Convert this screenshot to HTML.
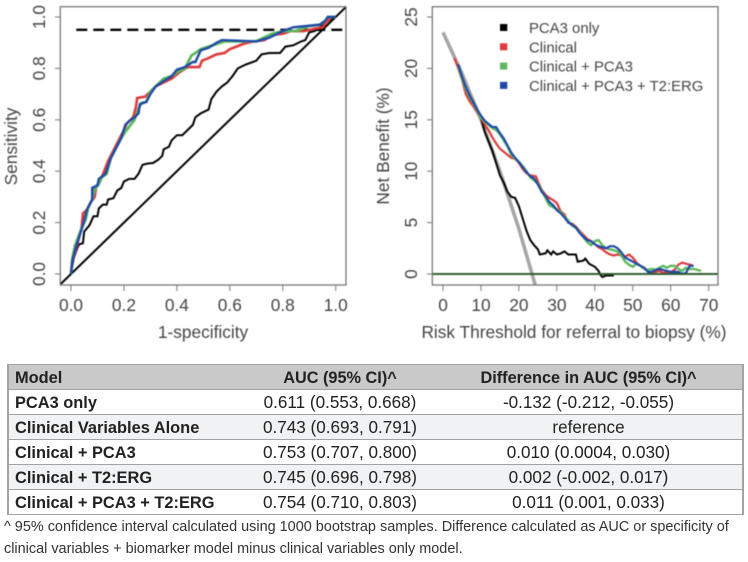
<!DOCTYPE html>
<html lang="en">
<head>
<meta charset="utf-8">
<title>ROC and decision curves with AUC table</title>
<style>
html,body{margin:0;padding:0;background:#fff;width:748px;height:562px;overflow:hidden}
#charts{position:absolute;left:0;top:0;filter:blur(0.5px)}
text{font-family:"Liberation Sans",sans-serif;fill:#444}
#auc-table{position:absolute;left:7px;top:364px;width:737px;height:151px;border-collapse:collapse;table-layout:fixed;font-family:"Liberation Sans",sans-serif;font-size:17.1px;color:#222;filter:blur(0.35px)}
#auc-table td,#auc-table th{box-sizing:border-box;border-top:1.5px solid #a3a3a3;border-bottom:1.5px solid #a3a3a3;padding:2px 0 0 0;text-align:center;height:25px;line-height:20px;font-weight:normal}
#auc-table tr>*:first-child{border-left:2px solid #a3a3a3;text-align:left;padding-left:6px;font-weight:bold;font-size:16.4px}
#auc-table tr>*:last-child{border-right:2px solid #a3a3a3;padding-left:3px}
#auc-table th{background:#c9c9c9;font-weight:bold !important;font-size:16.3px}
#auc-table tr.alt td{background:#f1f2f3}
.note{position:absolute;left:4px;font-family:"Liberation Sans",sans-serif;font-size:14.45px;color:#333;white-space:nowrap;filter:blur(0.35px)}
</style>
</head>
<body>
<svg id="charts" width="748" height="350" viewBox="0 0 748 350" xmlns="http://www.w3.org/2000/svg"></svg>

<table id="auc-table">
<colgroup><col style="width:240px"><col style="width:184px"><col></colgroup>
<tr><th>Model</th><th>AUC (95% CI)^</th><th>Difference in AUC (95% CI)^</th></tr>
<tr><td>PCA3 only</td><td>0.611 (0.553, 0.668)</td><td>-0.132 (-0.212, -0.055)</td></tr>
<tr class="alt"><td>Clinical Variables Alone</td><td>0.743 (0.693, 0.791)</td><td>reference</td></tr>
<tr><td>Clinical + PCA3</td><td>0.753 (0.707, 0.800)</td><td>0.010 (0.0004, 0.030)</td></tr>
<tr class="alt"><td>Clinical + T2:ERG</td><td>0.745 (0.696, 0.798)</td><td>0.002 (-0.002, 0.017)</td></tr>
<tr><td>Clinical + PCA3 + T2:ERG</td><td>0.754 (0.710, 0.803)</td><td>0.011 (0.001, 0.033)</td></tr>
</table>
<div class="note" style="top:519px">^ 95% confidence interval calculated using 1000 bootstrap samples. Difference calculated as AUC or specificity of</div>
<div class="note" style="top:541px">clinical variables + biomarker model minus clinical variables only model.</div>

<script>
// ROC chart data
const rocTicks = [0, 0.2, 0.4, 0.6, 0.8, 1.0];
const rocTickLabels = ["0.0", "0.2", "0.4", "0.6", "0.8", "1.0"];
const rocThreshold = 0.95;
const rocPca3Fpr = [0,0.01,0.02,0.03,0.045,0.05,0.07,0.085,0.10,0.105,0.12,0.135,0.14,0.16,0.175,0.19,0.2,0.22,0.24,0.255,0.27,0.29,0.31,0.33,0.345,0.35,0.37,0.38,0.4,0.42,0.44,0.46,0.47,0.49,0.52,0.53,0.55,0.57,0.59,0.61,0.63,0.66,0.70,0.72,0.75,0.79,0.81,0.84,0.87,0.885,0.90,0.92,0.94,0.96,0.98,1];
const rocPca3Tpr = [0,0.06,0.09,0.115,0.12,0.165,0.19,0.225,0.225,0.255,0.27,0.27,0.29,0.295,0.325,0.335,0.36,0.37,0.37,0.39,0.425,0.43,0.432,0.445,0.46,0.485,0.495,0.52,0.54,0.54,0.56,0.58,0.61,0.625,0.64,0.68,0.71,0.73,0.745,0.77,0.8,0.815,0.83,0.855,0.86,0.86,0.885,0.89,0.905,0.91,0.94,0.945,0.96,0.975,0.99,1];
const rocClinicalFpr = [0,0.005,0.02,0.03,0.04,0.045,0.06,0.075,0.09,0.095,0.11,0.125,0.14,0.16,0.18,0.2,0.21,0.235,0.245,0.25,0.28,0.3,0.32,0.35,0.38,0.41,0.44,0.485,0.495,0.52,0.55,0.58,0.6,0.625,0.65,0.69,0.73,0.76,0.8,0.83,0.88,0.92,0.95,0.97,0.985,1];
const rocClinicalTpr = [0,0.05,0.1,0.14,0.18,0.235,0.25,0.28,0.30,0.34,0.36,0.40,0.44,0.48,0.52,0.56,0.585,0.61,0.65,0.685,0.69,0.71,0.73,0.745,0.76,0.785,0.805,0.805,0.83,0.84,0.855,0.86,0.875,0.885,0.895,0.905,0.91,0.93,0.935,0.945,0.945,0.955,0.96,0.985,1,1];
const rocPlusPca3Fpr = [0,0.005,0.015,0.03,0.045,0.055,0.065,0.08,0.09,0.105,0.115,0.135,0.15,0.17,0.19,0.21,0.225,0.24,0.25,0.265,0.285,0.30,0.33,0.35,0.38,0.4,0.43,0.44,0.455,0.47,0.49,0.52,0.55,0.58,0.63,0.7,0.72,0.76,0.8,0.85,0.9,0.94,0.96,0.97,1];
const rocPlusPca3Tpr = [0,0.06,0.11,0.15,0.19,0.21,0.26,0.29,0.33,0.35,0.375,0.39,0.45,0.49,0.53,0.56,0.58,0.60,0.63,0.665,0.67,0.71,0.74,0.76,0.77,0.785,0.80,0.82,0.85,0.86,0.875,0.885,0.895,0.905,0.905,0.905,0.915,0.935,0.945,0.945,0.965,0.97,0.985,1,1];
const rocFullFpr = [0,0.005,0.02,0.03,0.045,0.06,0.08,0.08,0.1,0.105,0.13,0.15,0.17,0.19,0.205,0.22,0.24,0.255,0.26,0.285,0.3,0.32,0.35,0.38,0.4,0.43,0.46,0.47,0.49,0.52,0.55,0.57,0.7,0.75,0.8,0.84,0.89,0.94,0.96,0.97,1];
const rocFullTpr = [0,0.05,0.11,0.14,0.19,0.25,0.29,0.335,0.345,0.37,0.39,0.45,0.49,0.53,0.58,0.595,0.61,0.625,0.66,0.67,0.70,0.73,0.75,0.77,0.795,0.805,0.825,0.825,0.87,0.88,0.90,0.91,0.905,0.92,0.945,0.96,0.965,0.97,0.985,1,1];

// Net benefit chart data
const nbXTicks = [0, 10, 20, 30, 40, 50, 60, 70];
const nbYTicks = [0, 5, 10, 15, 20, 25];
const nbTreatAllX = [0, 5, 10, 15, 20, 24.4];
const nbTreatAllY = [23.5, 19.5, 15.0, 10.0, 4.4, -1.2];
const nbPca3X = [10,11,12,13,14,15,16,17,18,19,20,21,22,23,24,25,25.5,27,27.5,28.5,29,30,31,32,33,35,35.5,37,37.5,38.5,40,41,41.5,42,43,45];
const nbPca3Y = [15.2,13.8,12.9,12,10.8,9.6,8.9,8,7.5,7.4,6.6,5.4,4.2,3.3,2.8,2.4,1.9,2,2.3,1.9,2.2,1.9,2,2.2,1.9,1.9,1.2,1.3,1.5,1,0.7,0.3,-0.1,-0.3,-0.15,-0.15];
const nbClinicalX = [3,4,5,6,7,8,9,10,11,12,13,14,15,16,17,18,19,20,21,22,23,24.5,25,26,27,28,29,30,31,32,33,34,35,36,37,38,39,40,41,42,43,44,45,46,47,48,49,50,51,52,53,54,55,56,57,58,59,60,61,62,63,64,65,66];
const nbClinicalY = [21,20,18.9,17.5,16.8,16.3,15.7,15.2,14.5,14,13.3,12.7,12.2,11.9,11.6,11.3,11.2,10.8,10.2,9.8,9.6,9.5,9,8.2,7.7,7.4,7.2,6.9,6.1,5.8,5.0,4.9,4.6,4.2,3.8,3.4,3.2,2.9,2.6,2.4,2.1,1.9,1.8,1.9,1.8,1.7,1.9,1.6,1.1,0.8,0.6,0.2,0.1,0.2,0.3,0.1,0.2,0.2,0.4,0.9,1.1,1,0.9,0.8];
const nbPlusPca3X = [4,5,6,7,8,9,10,11,12,13,14,15,16,17,18,19,20,21,22,23,24,25,26,27,28,29,30,31,32,33,34,35,36,37,38,39,40,41,42,43,44,45,46,47,48,49,50,51,52,53,54,55,56,57,58,59,60,61,62,63,64,65,66,67,68];
const nbPlusPca3Y = [20.2,19,18,17.2,16.6,15.9,15.2,14.8,14.5,14.2,14,13.6,13,12.4,11.6,11.2,10.9,10.5,10,9.4,9.1,8.8,8.1,7.4,6.7,6.5,6.3,6,5.6,5.2,4.7,4.5,4.1,3.6,3.1,2.8,3.2,3.3,2.8,2.5,2.4,2.3,2.2,1.8,1.2,0.9,0.7,1,0.8,0.5,0.4,0.5,0.4,0.6,0.8,0.6,0.8,0.8,0.5,0.3,0.6,0.5,0.5,0.4,0.3];
const nbFullX = [4,5,6,7,8,9,10,11,12,13,14,15,16,17,18,19,20,21,22,23,24,25,26,27,28,29,30,31,32,33,34,35,36,37,38,39,40,41,42,43,44,45,46,47,48,49,50,51,52,53,54,55,56,57,58,59,60,61,62,63,64,65,66];
const nbFullY = [20.4,19.2,18.2,17.4,16.7,16,15.4,14.9,14.6,14.3,14.3,13.7,13.2,12.5,11.8,11.3,10.9,10.4,9.9,9.5,9.3,8.7,8,7.6,7,6.7,6.2,5.9,5.5,5,4.8,4.5,4,3.6,3.3,3.2,2.9,2.7,2.6,2.5,2.7,2.7,2.5,2.1,1.6,1.4,1.2,1,0.8,0.6,0.2,0.2,0.4,0.5,0.4,0.3,0.2,0.2,0.2,0,0.1,0.8,0.8];

// Legend data
const legendLabels = ["PCA3 only", "Clinical", "Clinical + PCA3", "Clinical + PCA3 + T2:ERG"];
const legendColors = ["#000000", "#e03a3a", "#5cb85c", "#1f4aa8"];

const NS = "http://www.w3.org/2000/svg";
const svg = document.getElementById("charts");

function add(parent, tag, attrs) {
  const el = document.createElementNS(NS, tag);
  for (const k in attrs) el.setAttribute(k, attrs[k]);
  parent.appendChild(el);
  return el;
}

// Axis functions
function rocXScale(v) { return 71 + v * 264.7; }
function rocYScale(v) { return 274 - v * 257; }
function nbXScale(v) { return 443 + v * (265.7 / 70); }
function nbYScale(v) { return 274 - v * (257 / 25); }

function linePath(xs, ys, sx, sy) {
  return xs.map(function (x, i) {
    return (i ? "L" : "M") + sx(x).toFixed(1) + " " + sy(ys[i]).toFixed(1);
  }).join("");
}

const defs = add(svg, "defs", {});
const clipLeft = add(defs, "clipPath", { id: "clip-left" });
add(clipLeft, "rect", { x: 60.3, y: 6.7, width: 285.7, height: 278.3 });
const clipRight = add(defs, "clipPath", { id: "clip-right" });
add(clipRight, "rect", { x: 432.3, y: 6.7, width: 285.7, height: 278.3 });

const AXIS = "#777777";
const TICK_FONT = 17.3;

// ROC panel
const rocG = add(svg, "g", {});


const rocMarks = add(rocG, "g", { "clip-path": "url(#clip-left)" });

const rocDiagonal = add(rocMarks, "line", { x1: rocXScale(-0.04), y1: rocYScale(-0.04), x2: rocXScale(1.04), y2: rocYScale(1.04), stroke: "#000", "stroke-width": 2 });



const rocDash = add(rocMarks, "line", { x1: rocXScale(0.02), y1: rocYScale(rocThreshold), x2: rocXScale(1.04), y2: rocYScale(rocThreshold), stroke: "#000", "stroke-width": 2.4, "stroke-dasharray": "11 6" });



const rocPca3 = add(rocMarks, "path", { d: linePath(rocPca3Fpr, rocPca3Tpr, rocXScale, rocYScale), fill: "none", stroke: "#000", "stroke-width": 2 });



const rocClinical = add(rocMarks, "path", { d: linePath(rocClinicalFpr, rocClinicalTpr, rocXScale, rocYScale), fill: "none", stroke: legendColors[1], "stroke-width": 2.6 });



const rocPlusPca3 = add(rocMarks, "path", { d: linePath(rocPlusPca3Fpr, rocPlusPca3Tpr, rocXScale, rocYScale), fill: "none", stroke: legendColors[2], "stroke-width": 2.8 });



const rocFull = add(rocMarks, "path", { d: linePath(rocFullFpr, rocFullTpr, rocXScale, rocYScale), fill: "none", stroke: legendColors[3], "stroke-width": 2.4 });



const rocBox = add(rocG, "rect", { x: 60.3, y: 6.7, width: 285.7, height: 278.3, fill: "none", stroke: AXIS, "stroke-width": 1.3 });



rocTicks.forEach(function (t, i) {
  const tx = add(rocG, "line", { x1: rocXScale(t), x2: rocXScale(t), y1: 285, y2: 291, stroke: AXIS, "stroke-width": 1 });
  
  
  const lx = add(rocG, "text", { x: rocXScale(t), y: 311, "text-anchor": "middle", "font-size": TICK_FONT });
  
  
  lx.textContent = rocTickLabels[i];
  const ty = add(rocG, "line", { x1: 55, x2: 60.3, y1: rocYScale(t), y2: rocYScale(t), stroke: AXIS, "stroke-width": 1 });
  
  
  const ly = add(rocG, "text", { transform: "translate(45 " + rocYScale(t) + ") rotate(-90)", "text-anchor": "middle", "font-size": TICK_FONT });
  
  
  ly.textContent = rocTickLabels[i];
});

const rocXTitle = add(rocG, "text", { x: 203, y: 338, "text-anchor": "middle", "font-size": TICK_FONT });


rocXTitle.textContent = "1-specificity";
const rocYTitle = add(rocG, "text", { transform: "translate(17 146.5) rotate(-90)", "text-anchor": "middle", "font-size": TICK_FONT });


rocYTitle.textContent = "Sensitivity";

// Net benefit panel
const nbG = add(svg, "g", {});


const nbMarks = add(nbG, "g", { "clip-path": "url(#clip-right)" });

const nbTreatAll = add(nbMarks, "path", { d: linePath(nbTreatAllX, nbTreatAllY, nbXScale, nbYScale), fill: "none", stroke: "#a6a6a6", "stroke-width": 3.6 });



const nbPca3 = add(nbMarks, "path", { d: linePath(nbPca3X, nbPca3Y, nbXScale, nbYScale), fill: "none", stroke: "#000", "stroke-width": 2 });



const nbClinical = add(nbMarks, "path", { d: linePath(nbClinicalX, nbClinicalY, nbXScale, nbYScale), fill: "none", stroke: legendColors[1], "stroke-width": 2.2 });



const nbPlusPca3 = add(nbMarks, "path", { d: linePath(nbPlusPca3X, nbPlusPca3Y, nbXScale, nbYScale), fill: "none", stroke: legendColors[2], "stroke-width": 2.4 });



const nbFull = add(nbMarks, "path", { d: linePath(nbFullX, nbFullY, nbXScale, nbYScale), fill: "none", stroke: legendColors[3], "stroke-width": 2.2 });



const nbZero = add(nbMarks, "line", { x1: 432.3, x2: 718, y1: nbYScale(0), y2: nbYScale(0), stroke: "#2f5e2f", "stroke-width": 2 });



const nbBox = add(nbG, "rect", { x: 432.3, y: 6.7, width: 285.7, height: 278.3, fill: "none", stroke: AXIS, "stroke-width": 1.3 });



nbXTicks.forEach(function (t) {
  const tx = add(nbG, "line", { x1: nbXScale(t), x2: nbXScale(t), y1: 285, y2: 291, stroke: AXIS, "stroke-width": 1 });
  
  
  const lx = add(nbG, "text", { x: nbXScale(t), y: 311, "text-anchor": "middle", "font-size": TICK_FONT });
  
  
  lx.textContent = String(t);
});
nbYTicks.forEach(function (t) {
  const ty = add(nbG, "line", { x1: 427, x2: 432.3, y1: nbYScale(t), y2: nbYScale(t), stroke: AXIS, "stroke-width": 1 });
  
  
  const ly = add(nbG, "text", { transform: "translate(417 " + nbYScale(t) + ") rotate(-90)", "text-anchor": "middle", "font-size": TICK_FONT });
  
  
  ly.textContent = String(t);
});

const nbXTitle = add(nbG, "text", { x: 574, y: 338, "text-anchor": "middle", "font-size": TICK_FONT });


nbXTitle.textContent = "Risk Threshold for referral to biopsy (%)";
const nbYTitle = add(nbG, "text", { transform: "translate(389 146) rotate(-90)", "text-anchor": "middle", "font-size": TICK_FONT });


nbYTitle.textContent = "Net Benefit (%)";

// Legend
const legend = add(nbG, "g", {});


legendLabels.forEach(function (label, i) {
  const rowY = 27.5 + i * 19.3;
  const swatch = add(legend, "rect", { x: 500, y: rowY - 3.5, width: 7.3, height: 7, fill: legendColors[i] });
  
  
  const txt = add(legend, "text", { x: 529, y: rowY + 5.5, "font-size": 14.9 });
  
  
  txt.textContent = label;
});
</script>
</body>
</html>
